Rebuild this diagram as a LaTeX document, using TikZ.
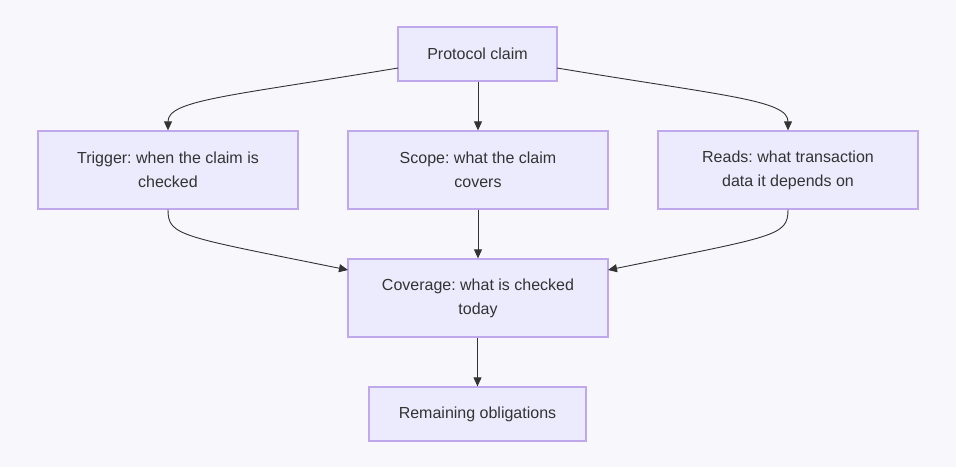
\documentclass[tikz,border=0pt]{standalone}
\usepackage{fontspec}
\setmainfont{Liberation Sans}
\usetikzlibrary{arrows.meta}
\definecolor{bg}{HTML}{F8F7FC}
\definecolor{nodefill}{HTML}{ECEBFE}
\definecolor{nodeline}{HTML}{C0A8EC}
\definecolor{edge}{HTML}{333333}
\frenchspacing
\begin{document}
\begin{tikzpicture}[x=1pt,y=-1pt,
  box/.style={draw=nodeline,fill=nodefill,line width=1.3pt,text=edge,
    font=\fontsize{16}{24}\selectfont\frenchspacing,align=center,inner sep=0pt,anchor=center},
  conn/.style={draw=edge,line width=0.9pt,-{Triangle[length=9pt,width=8pt]}}]
\fill[bg] (0,0) rectangle (956,467);
\useasboundingbox (0,0) rectangle (956,467);
\node[box,minimum width=159pt,minimum height=54pt] (claim) at (477.5,54) {Protocol claim};
\node[box,minimum width=260pt,minimum height=78pt] (trigger) at (168,170) {Trigger: when the claim is\\checked};
\node[box,minimum width=260pt,minimum height=78pt] (scope) at (478,170) {Scope: what the claim\\covers};
\node[box,minimum width=260pt,minimum height=78pt] (reads) at (788,170) {Reads: what transaction\\data it depends on};
\node[box,minimum width=260pt,minimum height=78pt] (cov) at (478,298) {Coverage: what is checked\\today};
\node[box,minimum width=217pt,minimum height=54pt] (rem) at (477.5,414) {Remaining obligations};
\coordinate (cl) at (398,68);
\coordinate (cr) at (557,68);
\coordinate (vl) at (348,270);
\coordinate (vr) at (608,270);
\draw[conn] (cl) .. controls (230,96) and (168,100) .. (trigger.north);
\draw[conn] (cr) .. controls (725,96) and (788,100) .. (reads.north);
\draw[conn] (claim.south -| scope.north) -- (scope.north);
\draw[conn] (trigger.south) .. controls (168,236) and (180,236) .. (vl);
\draw[conn] (reads.south) .. controls (788,236) and (776,236) .. (vr);
\draw[conn] (scope.south) -- (cov.north);
\draw[conn] (cov.south -| rem.north) -- (rem.north);
\end{tikzpicture}
\end{document}
